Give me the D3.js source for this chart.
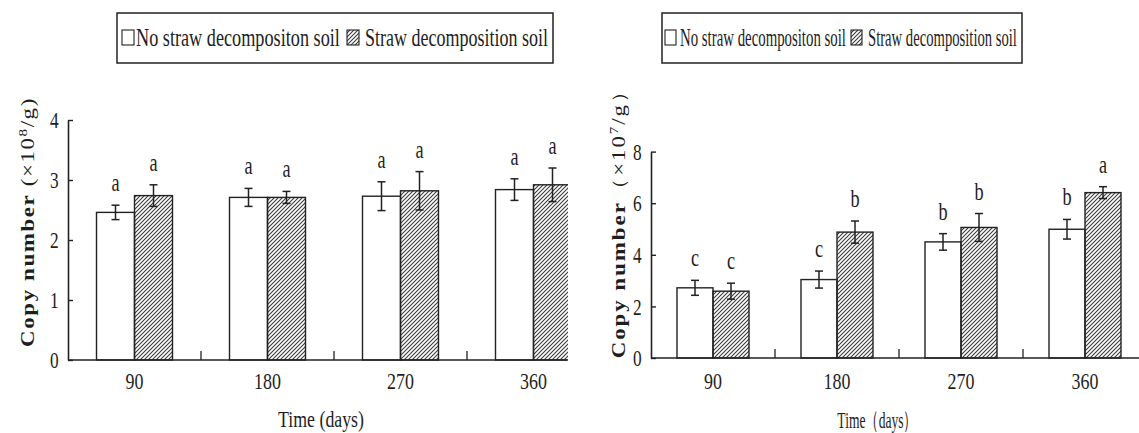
<!DOCTYPE html>
<html>
<head>
<meta charset="utf-8">
<script src="https://cdn.jsdelivr.net/npm/d3@7"></script>
<style>
  body{margin:0;background:#fff}
  svg text{font-family:"Liberation Serif","DejaVu Serif",serif !important;fill:#1e1e1e}
</style>
</head>
<body>
<svg id="svg1" width="1139" height="433"></svg>
<script>
var categories = ["90","180","270","360"]
var seriesNames = ["No straw decompositon soil","Straw decomposition soil"]

// left panel (x10^8/g)
var leftNoStraw    = [2.46, 2.71, 2.73, 2.84]
var leftNoStrawErr = [0.12, 0.15, 0.24, 0.18]
var leftStraw      = [2.74, 2.71, 2.82, 2.92]
var leftStrawErr   = [0.18, 0.10, 0.32, 0.28]
var leftNoStrawLetters = ["a","a","a","a"]
var leftStrawLetters   = ["a","a","a","a"]
var leftTicks = [0,1,2,3,4]

// right panel (x10^7/g)
var rightNoStraw    = [2.72, 3.04, 4.50, 4.99]
var rightNoStrawErr = [0.29, 0.33, 0.32, 0.38]
var rightStraw      = [2.59, 4.88, 5.06, 6.41]
var rightStrawErr   = [0.31, 0.43, 0.54, 0.23]
var rightNoStrawLetters = ["c","c","b","b"]
var rightStrawLetters   = ["c","b","b","a"]
var rightTicks = [0,2,4,6,8]

var svg = d3.select("#svg1")
var ink = "#222"

var defs = svg.append("defs")
defs.append("pattern")
    .attr("id","hatch")
    .attr("patternUnits","userSpaceOnUse")
    .attr("width",4).attr("height",4)
  .append("path")
    .attr("d","M-1,1 l2,-2 M0,4 l4,-4 M3,5 l2,-2")
    .attr("stroke","#3a3a3a")
    .attr("stroke-width",1.1)

var SQ = 0.78 // horizontal squeeze of the serif text, like the original figure

// squeeze a text horizontally so it is exactly w wide
function fitText(t, x, y, w){
  var n = t.node().getComputedTextLength()
  t.attr("x",0).attr("y",0)
   .attr("transform","translate(" + x + "," + y + ") scale(" + (w/n) + ",1)")
}

function drawPanel(p){
  var x = d3.scaleBand().domain(categories)
      .range([p.left, p.left + p.step*categories.length])
  var sub = d3.scaleBand().domain([0,1])
      .range([x.bandwidth()/2 - p.barW, x.bandwidth()/2 + p.barW])
  var y = d3.scaleLinear().domain([0, p.yMax]).range([p.bottom, p.top])

  var rows = []
  for(var i=0;i<categories.length;i++){
    rows.push({cat:categories[i], s:0, v:p.noStraw[i], e:p.noStrawErr[i], lab:p.noStrawLetters[i]})
    rows.push({cat:categories[i], s:1, v:p.straw[i], e:p.strawErr[i], lab:p.strawLetters[i]})
  }

  defs.append("clipPath").attr("id","clip"+p.id)
    .append("rect").attr("x",0).attr("y",0)
    .attr("width",p.axisEnd+1).attr("height",433)

  var g = svg.append("g").attr("clip-path","url(#clip"+p.id+")")

  g.selectAll("rect.bar")
    .data(rows)
    .enter().append("rect")
      .attr("class","bar")
      .attr("x", function(d){ return x(d.cat) + sub(d.s) })
      .attr("y", function(d){ return y(d.v) })
      .attr("width", sub.bandwidth())
      .attr("height", function(d){ return y(0) - y(d.v) })
      .attr("fill", function(d){ return d.s ? "url(#hatch)" : "#fff" })
      .attr("stroke", ink)
      .attr("stroke-width", 1.4)

  // error bars
  var eb = g.selectAll("g.err")
    .data(rows)
    .enter().append("g")
      .attr("class","err")
      .attr("transform", function(d){ return "translate(" + (x(d.cat) + sub(d.s) + sub.bandwidth()/2) + ",0)" })
  eb.append("line")
      .attr("y1", function(d){ return y(d.v + d.e) })
      .attr("y2", function(d){ return y(d.v - d.e) })
  eb.append("line").attr("x1",-4).attr("x2",4)
      .attr("y1", function(d){ return y(d.v + d.e) })
      .attr("y2", function(d){ return y(d.v + d.e) })
  eb.append("line").attr("x1",-4).attr("x2",4)
      .attr("y1", function(d){ return y(d.v - d.e) })
      .attr("y2", function(d){ return y(d.v - d.e) })
  eb.selectAll("line").attr("stroke", ink).attr("stroke-width", 1.5)

  // significance letters
  svg.selectAll("text.lab"+p.id)
    .data(rows)
    .enter().append("text")
      .attr("class","lab"+p.id)
      .attr("text-anchor","middle")
      .attr("font-size",26)
      .attr("transform", function(d){
        return "translate(" + (x(d.cat) + sub(d.s) + sub.bandwidth()/2) + "," + (y(d.v + d.e) - 14) + ") scale(0.7,1)" })
      .text(function(d){ return d.lab })

  // x axis
  var xa = g.append("g")
      .attr("transform","translate(0," + p.bottom + ")")
      .call(d3.axisBottom(x).tickSize(0).tickPadding(p.xPad))
  xa.select(".domain").remove()
  xa.selectAll("text")
      .attr("font-size",23)
      .attr("transform","scale(" + SQ + ",1)")
  xa.append("line")
      .attr("x1", p.left).attr("x2", p.axisEnd)
      .attr("stroke", ink).attr("stroke-width", 1.6)
  xa.selectAll("line.sep")
    .data(categories.slice(0,-1))
    .enter().append("line")
      .attr("class","sep")
      .attr("x1", function(d){ return x(d) + x.step() })
      .attr("x2", function(d){ return x(d) + x.step() })
      .attr("y1",0).attr("y2",-9)
      .attr("stroke", ink).attr("stroke-width", 1.3)

  // y axis
  var ya = svg.append("g")
      .attr("transform","translate(" + p.left + ",0)")
      .call(d3.axisLeft(y).tickValues(p.ticks).tickFormat(d3.format("d"))
        .tickSizeInner(-5).tickSizeOuter(0).tickPadding(13))
  ya.select(".domain").attr("stroke", ink).attr("stroke-width", 1.6)
  ya.selectAll(".tick line").attr("stroke", ink).attr("stroke-width", 1.4)
  ya.selectAll("text")
      .attr("font-size",24)
      .attr("transform","scale(0.72,1)")

  // y title, spread out to the length of the original
  var yt = svg.append("text")
      .attr("text-anchor","middle")
      .attr("font-size",23)
  yt.append("tspan").attr("font-weight","bold").text("Copy number")
  yt.append("tspan").text(p.unitOpen)
  yt.append("tspan").attr("font-size",15).attr("dy",-9).text(p.power)
  yt.append("tspan").attr("dy",9).text(p.unitClose)
  var nat = yt.node().getComputedTextLength()
  var nch = yt.text().length
  yt.attr("letter-spacing", Math.max(0, (p.titleLen - nat)/nch))
    .attr("transform","translate(" + p.titleX + "," + p.titleY + ") rotate(-90) scale(1," + SQ + ")")

  // x title
  var tt = svg.append("text")
      .attr("text-anchor","middle")
      .attr("font-size",24)
      .text(p.timeText)
  fitText(tt, p.timeX, p.timeY, p.timeLen)

  // legend
  var lg = svg.append("g")
  lg.append("rect")
      .attr("x", p.legX).attr("y", 13)
      .attr("width", p.legW).attr("height", 50)
      .attr("fill","none").attr("stroke", ink).attr("stroke-width", 1.5)
  lg.selectAll("rect.key")
    .data(seriesNames)
    .enter().append("rect")
      .attr("class","key")
      .attr("x", function(d,i){ return p.keyX[i] })
      .attr("y", 30)
      .attr("width", p.keyW).attr("height", 15)
      .attr("fill", function(d,i){ return i ? "url(#hatch)" : "#fff" })
      .attr("stroke", ink).attr("stroke-width", 1.1)
  lg.selectAll("text")
    .data(seriesNames)
    .enter().append("text")
      .attr("font-size",p.legFont)
      .text(function(d){ return d })
      .each(function(d,i){ fitText(d3.select(this), p.textX[i], 46, p.textLen[i]) })
}

drawPanel({
  id:"L", left:68, step:133, barW:38, axisEnd:567,
  top:120, bottom:360, yMax:4, ticks:leftTicks, xPad:13,
  noStraw:leftNoStraw, noStrawErr:leftNoStrawErr, noStrawLetters:leftNoStrawLetters,
  straw:leftStraw, strawErr:leftStrawErr, strawLetters:leftStrawLetters,
  titleX:34, titleY:222, titleLen:250,
  unitOpen:" (\u00d710", power:"8", unitClose:"/g)",
  timeX:321, timeY:427, timeLen:86, timeText:"Time (days)",
  legX:117, legW:436, keyX:[122,347], keyW:12, legFont:26,
  textX:[136,365], textLen:[204,183]
})

drawPanel({
  id:"R", left:651, step:124, barW:36, axisEnd:1139,
  top:151.6, bottom:358, yMax:8, ticks:rightTicks, xPad:15,
  noStraw:rightNoStraw, noStrawErr:rightNoStrawErr, noStrawLetters:rightNoStrawLetters,
  straw:rightStraw, strawErr:rightStrawErr, strawLetters:rightStrawLetters,
  titleX:625, titleY:218, titleLen:280,
  unitOpen:"\uff08\u00d710", power:"7", unitClose:"/g\uff09",
  timeX:877, timeY:428, timeLen:80, timeText:"Time\uff08days\uff09",
  legX:662, legW:360, keyX:[665,851], keyW:11, legFont:25,
  textX:[680,868], textLen:[166,149]
})
</script>
</body>
</html>
